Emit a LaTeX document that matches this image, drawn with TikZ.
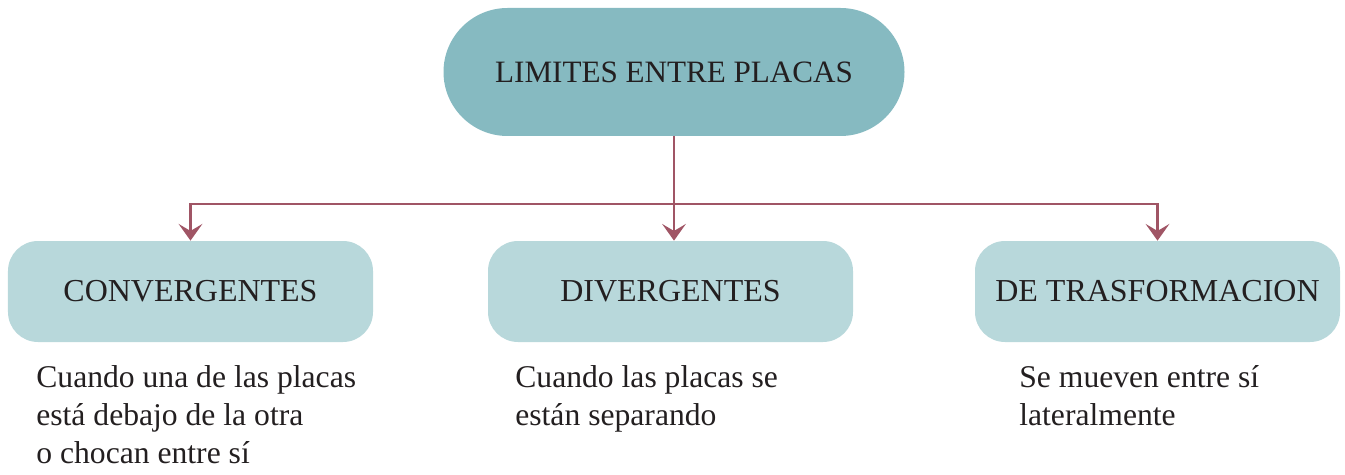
\documentclass[tikz,border=0pt]{standalone}
\usepackage{fontspec}
\setmainfont{Liberation Serif}
\usetikzlibrary{arrows.meta}
\definecolor{ink}{HTML}{231F20}
\definecolor{teal}{HTML}{86BAC1}
\definecolor{paleteal}{HTML}{B8D8DB}
\definecolor{wine}{HTML}{A05565}
\tikzset{
  root/.style={fill=teal,rounded corners=1.28cm,minimum width=9.22cm,minimum height=2.56cm,inner sep=0pt,align=center,font=\fontsize{17.7}{21}\selectfont,text=ink},
  kind/.style={fill=paleteal,rounded corners=0.6cm,minimum width=7.3cm,minimum height=2.02cm,inner sep=0pt,align=center,font=\fontsize{18.2}{21}\selectfont,text=ink},
  note/.style={anchor=north west,inner sep=0pt,align=left,font=\fontsize{18}{21.8}\selectfont,text=ink},
  flow/.style={-{Stealth[length=9.5pt,width=13.5pt,inset=4pt]},line width=1.5pt,draw=wine}
}
\begin{document}
\begin{tikzpicture}
  \useasboundingbox (0,0) rectangle (26.9,-9.5);
  \node[root] (top) at (13.48,-1.44) {LIMITES ENTRE PLACAS};

  \node[kind] (conv) at (3.81,-5.83) {CONVERGENTES};
  \node[kind] (div) at (13.41,-5.83) {DIVERGENTES};
  \node[kind] (trans) at (23.15,-5.83) {DE TRASFORMACION};

  \coordinate (bus) at (13.48,-4.08);
  \draw[flow] (top.south) -- (top.south |- div.north);
  \draw[flow] (bus) -| (conv.north);
  \draw[flow] (bus) -| (trans.north);

  \node[note] (convtxt) at (0.72,-7.3) {Cuando una de las placas\\está debajo de la otra\\o chocan entre sí};
  \node[note] (divtxt) at (10.3,-7.3) {Cuando las placas se\\están separando};
  \node[note] (transtxt) at (20.38,-7.3) {Se mueven entre sí\\lateralmente};
\end{tikzpicture}
\end{document}
